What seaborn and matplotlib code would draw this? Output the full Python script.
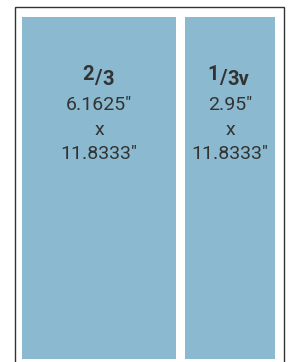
import matplotlib
matplotlib.use('Agg')
import matplotlib.pyplot as plt
import seaborn as sns
from matplotlib.patches import Rectangle

# ad sizes (inches)
sizes = ['2/3', '1/3v']
numerators = ['2', '1']
denominators = ['3', '3v']
widths_in = [6.1625, 2.95]
heights_in = [11.8333, 11.8333]

sns.set_theme(style='white')
plt.rcParams['font.family'] = ['Roboto', 'DejaVu Sans']

W, H = 290, 362
fig = plt.figure(figsize=(W / 100, H / 100), dpi=100)

# frame around the page
fig.patches.append(Rectangle((15 / W, -0.05), 269 / W, 1.05 - 7 / H,
                             transform=fig.transFigure, fill=False,
                             edgecolor='#333333', linewidth=1.0))

ax = fig.add_axes([22 / W, 3 / H, 253 / W, 342 / H])
sns.barplot(x=sizes, y=heights_in, color='#8ab9d0', saturation=1, ax=ax)

# bar boxes in px along the page
box_left = [0, 163]
box_w = [154, 90]
for p, l, w in zip(ax.patches, box_left, box_w):
    p.set_x(l)
    p.set_width(w)
    p.set_edgecolor('none')
ax.set_xlim(0, 253)
ax.set_ylim(0, heights_in[0])
ax.axis('off')

txt = '#333333'
slash_dx = [-0.5, -4.8]  # pt, slash position from box centre
for i in range(len(sizes)):
    cx = box_left[i] + box_w[i] / 2
    base = (cx, heights_in[i])
    sx = slash_dx[i]
    ax.annotate('/', base, xytext=(sx, -48), textcoords='offset points',
                ha='center', va='baseline', fontsize=14.5, color=txt, fontweight='semibold')
    ax.annotate(numerators[i], base, xytext=(sx - 3, -45),
                textcoords='offset points', ha='right', va='baseline',
                fontsize=14.5, color=txt, fontweight='semibold')
    ax.annotate(denominators[i], base, xytext=(sx + 3, -49.2),
                textcoords='offset points', ha='left', va='baseline',
                fontsize=14.5, color=txt, fontweight='semibold')
    ax.annotate(f'{widths_in[i]:g}"', base, xytext=(0, -67.2), textcoords='offset points',
                ha='center', va='baseline', fontsize=14, color=txt)
    ax.annotate('x', base, xytext=(0, -85), textcoords='offset points',
                ha='center', va='baseline', fontsize=14, color=txt)
    ax.annotate(f'{heights_in[i]:g}"', base, xytext=(0, -102.2), textcoords='offset points',
                ha='center', va='baseline', fontsize=14, color=txt)

fig.savefig('out.png', dpi=100)
